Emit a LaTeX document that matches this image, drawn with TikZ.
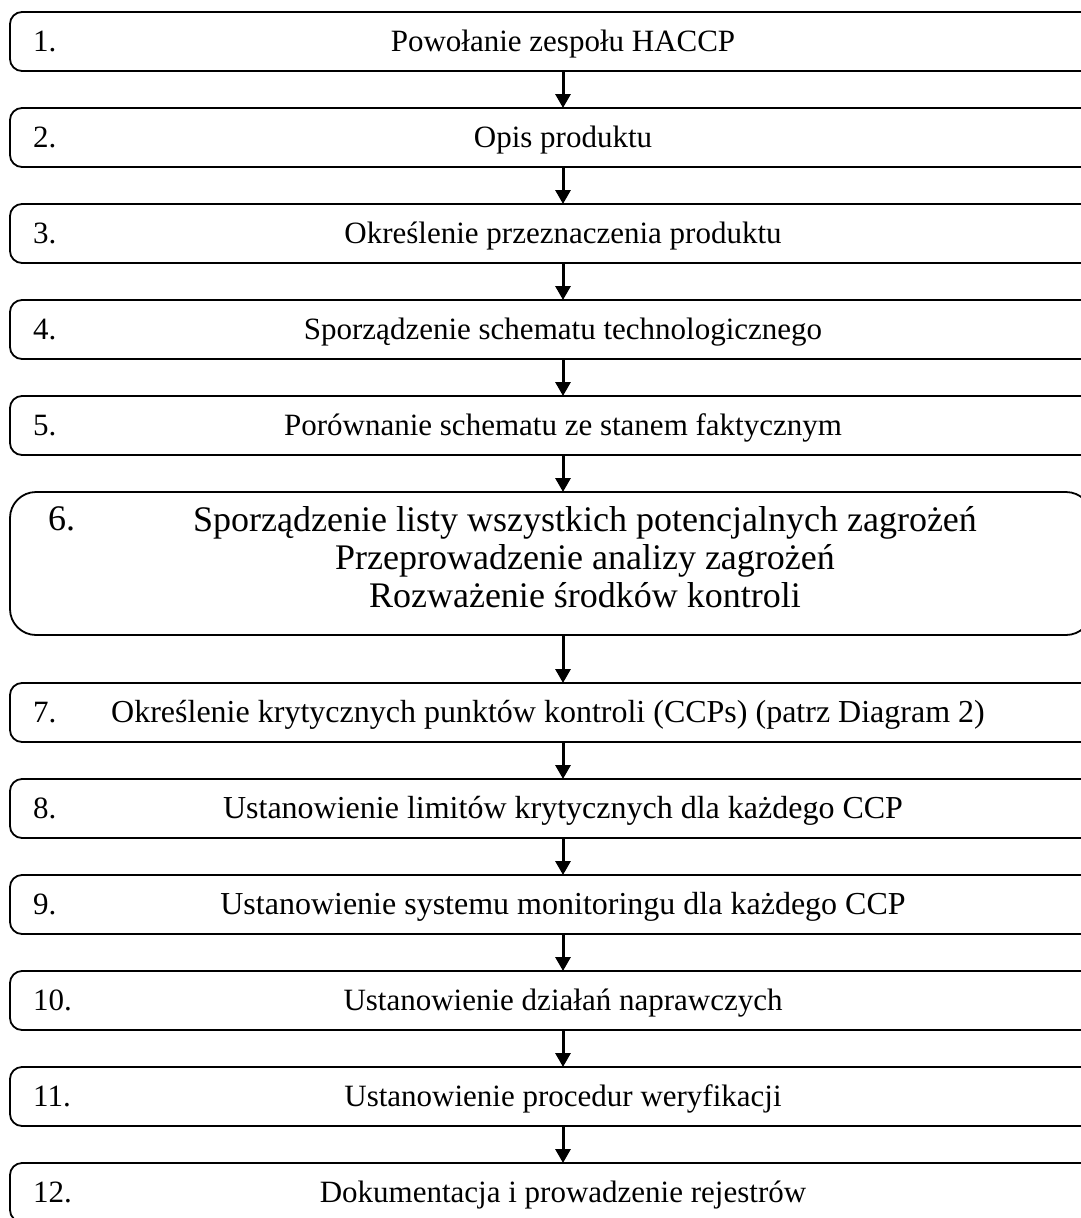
\documentclass[tikz,border=0pt]{standalone}
\usepackage{fontspec}
\setmainfont{Liberation Serif}
\usetikzlibrary{positioning,arrows.meta}

\newcommand{\widefont}{\fontsize{32}{35}\selectfont}

\begin{document}
\begin{tikzpicture}[
    x=1pt, y=1pt,
    font=\fontsize{31}{34}\selectfont,
    stepbox/.style={draw=black, line width=1.8pt, rounded corners=12pt, minimum width=1106pt, minimum height=59pt,
                    inner sep=0pt, outer sep=0pt, text height=20.5pt, text depth=0pt},
    numlabel/.style={anchor=west, inner sep=0pt, xshift=23pt, text height=20.5pt, text depth=0pt},
    flow/.style={-{Triangle[width=15pt,length=14pt]}, line width=3pt},
    node distance=37pt
    ]
        \useasboundingbox (0,0) rectangle (1081,-1218);

        %Nodes
        \node[stepbox, label={[numlabel]west:1.}]
            (s1)    at (563,-41.5)  {Powołanie zespołu HACCP};
        \node[stepbox, label={[numlabel]west:2.}]
            (s2)    [below=of s1]   {Opis produktu};
        \node[stepbox, label={[numlabel]west:3.}]
            (s3)    [below=of s2]   {Określenie przeznaczenia produktu};
        \node[stepbox, label={[numlabel]west:4.}]
            (s4)    [below=of s3]   {Sporządzenie schematu technologicznego};
        \node[stepbox, label={[numlabel]west:5.}]
            (s5)    [below=of s4]   {Porównanie schematu ze stanem faktycznym};
        \node[stepbox, rounded corners=26pt, minimum width=1082pt, minimum height=143pt,
              label={[anchor=north west, inner sep=0pt, xshift=38pt, yshift=-14pt,
                      font=\fontsize{36}{38}\selectfont]north west:6.}]
            (s6)    [below=of s5.south west, anchor=north west] {};
        \node[align=center, anchor=north, inner sep=0pt, font=\fontsize{36}{38}\selectfont]
            (t6)    at ([xshift=34pt, yshift=-14pt]s6.north)
            {Sporządzenie listy wszystkich potencjalnych zagrożeń\\
             Przeprowadzenie analizy zagrożeń\\
             Rozważenie środków kontroli};
        \node[stepbox, label={[numlabel]west:7.}]
            (s7)    [below=48pt of s6.south -| s5.south, anchor=north]
            {\widefont\hspace*{-30pt}Określenie krytycznych punktów kontroli (CCPs) (patrz Diagram 2)};
        \node[stepbox, label={[numlabel]west:8.}]
            (s8)    [below=of s7]   {\widefont Ustanowienie limitów krytycznych dla każdego CCP};
        \node[stepbox, label={[numlabel]west:9.}]
            (s9)    [below=of s8]   {\widefont Ustanowienie systemu monitoringu dla każdego CCP};
        \node[stepbox, label={[numlabel]west:10.}]
            (s10)   [below=of s9]   {Ustanowienie działań naprawczych};
        \node[stepbox, label={[numlabel]west:11.}]
            (s11)   [below=of s10]  {Ustanowienie procedur weryfikacji};
        \node[stepbox, label={[numlabel]west:12.}]
            (s12)   [below=of s11]  {Dokumentacja i prowadzenie rejestrów};

        %Lines
        \draw[flow] (s1.south) -- (s2.north);
        \draw[flow] (s2.south) -- (s3.north);
        \draw[flow] (s3.south) -- (s4.north);
        \draw[flow] (s4.south) -- (s5.north);
        \draw[flow] (s5.south) -- (s5.south |- s6.north);
        \draw[flow] (s6.south -| s7.north) -- (s7.north);
        \draw[flow] (s7.south) -- (s8.north);
        \draw[flow] (s8.south) -- (s9.north);
        \draw[flow] (s9.south) -- (s10.north);
        \draw[flow] (s10.south) -- (s11.north);
        \draw[flow] (s11.south) -- (s12.north);
\end{tikzpicture}
\end{document}
